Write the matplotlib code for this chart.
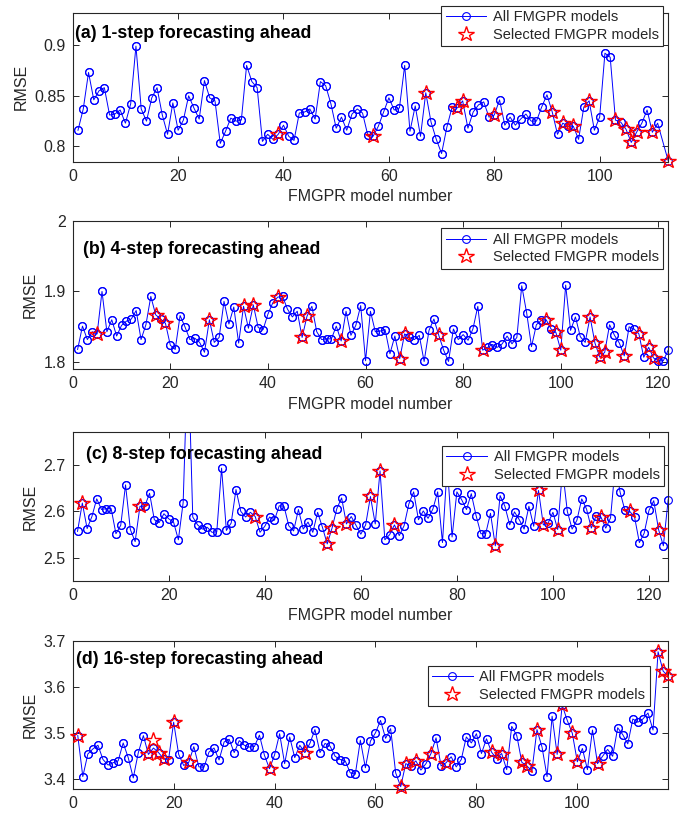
import numpy as np
import matplotlib
matplotlib.use('Agg')
import matplotlib.pyplot as plt

plt.rcParams['font.family'] = ['Liberation Sans', 'DejaVu Sans']

# ---- (a) 1-step ahead: RMSE of every FMGPR model (model 112 not present)
models_1 = list(range(1, 112)) + [113]
rmse_1 = [0.816, 0.837, 0.873, 0.846, 0.855, 0.858, 0.831, 0.832, 0.836, 0.823,
          0.842, 0.899, 0.837, 0.825, 0.848, 0.858, 0.831, 0.812, 0.843, 0.816,
          0.826, 0.850, 0.838, 0.827, 0.865, 0.848, 0.845, 0.803, 0.815, 0.828,
          0.825, 0.826, 0.880, 0.864, 0.858, 0.805, 0.812, 0.807, 0.812, 0.821,
          0.810, 0.806, 0.833, 0.834, 0.837, 0.827, 0.864, 0.860, 0.842, 0.818,
          0.829, 0.816, 0.832, 0.837, 0.833, 0.811, 0.810, 0.820, 0.834, 0.848,
          0.836, 0.838, 0.880, 0.815, 0.840, 0.810, 0.853, 0.824, 0.807, 0.793,
          0.819, 0.839, 0.838, 0.845, 0.818, 0.834, 0.841, 0.844, 0.829, 0.831,
          0.846, 0.821, 0.829, 0.821, 0.827, 0.832, 0.825, 0.825, 0.839, 0.851,
          0.834, 0.812, 0.823, 0.820, 0.820, 0.807, 0.839, 0.845, 0.816, 0.829,
          0.892, 0.888, 0.826, 0.824, 0.817, 0.804, 0.814, 0.823, 0.836, 0.814,
          0.823, 0.786]
sel_models_1 = [39, 57, 67, 73, 74, 80, 91, 93, 95, 98, 103, 105, 106, 107, 110, 113]
sel_rmse_1 = [0.812, 0.810, 0.853, 0.838, 0.845, 0.831, 0.834, 0.823, 0.820, 0.845,
              0.826, 0.817, 0.804, 0.814, 0.814, 0.786]

# ---- (b) 4-step ahead
models_4 = list(range(1, 123))
rmse_4 = [1.818, 1.851, 1.832, 1.843, 1.840, 1.900, 1.843, 1.860, 1.837, 1.852,
          1.858, 1.861, 1.873, 1.832, 1.853, 1.893, 1.867, 1.861, 1.855, 1.824,
          1.818, 1.866, 1.850, 1.832, 1.834, 1.828, 1.814, 1.860, 1.828, 1.835,
          1.886, 1.854, 1.878, 1.827, 1.879, 1.848, 1.881, 1.849, 1.846, 1.868,
          1.884, 1.892, 1.893, 1.875, 1.864, 1.872, 1.835, 1.865, 1.879, 1.843,
          1.832, 1.833, 1.833, 1.851, 1.830, 1.872, 1.838, 1.852, 1.880, 1.802,
          1.872, 1.843, 1.844, 1.846, 1.812, 1.837, 1.805, 1.840, 1.835, 1.832,
          1.838, 1.801, 1.845, 1.861, 1.838, 1.817, 1.801, 1.847, 1.832, 1.839,
          1.831, 1.847, 1.879, 1.817, 1.821, 1.825, 1.821, 1.826, 1.837, 1.826,
          1.835, 1.908, 1.870, 1.822, 1.853, 1.859, 1.860, 1.847, 1.842, 1.817,
          1.909, 1.845, 1.864, 1.836, 1.828, 1.864, 1.827, 1.807, 1.814, 1.853,
          1.838, 1.827, 1.809, 1.850, 1.847, 1.840, 1.807, 1.821, 1.806, 1.802,
          1.802, 1.817]
sel_models_4 = [5, 17, 19, 28, 35, 37, 42, 47, 48, 55, 67, 68, 75, 84, 97, 99, 100,
                106, 107, 108, 109, 113, 116, 118, 119]
sel_rmse_4 = [1.840, 1.867, 1.855, 1.860, 1.879, 1.881, 1.892, 1.835, 1.865, 1.830,
              1.805, 1.840, 1.838, 1.817, 1.860, 1.842, 1.817, 1.864, 1.827, 1.807,
              1.814, 1.809, 1.840, 1.821, 1.806]

# ---- (c) 8-step ahead
models_8 = list(range(1, 125))
rmse_8 = [2.557, 2.618, 2.563, 2.589, 2.627, 2.604, 2.606, 2.606, 2.552, 2.570,
          2.657, 2.561, 2.535, 2.611, 2.611, 2.639, 2.582, 2.576, 2.595, 2.584,
          2.577, 2.539, 2.619, 2.950, 2.588, 2.571, 2.562, 2.566, 2.555, 2.556,
          2.693, 2.559, 2.575, 2.647, 2.600, 2.588, 2.598, 2.589, 2.555, 2.568,
          2.588, 2.581, 2.612, 2.611, 2.569, 2.558, 2.604, 2.562, 2.577, 2.555,
          2.598, 2.566, 2.530, 2.564, 2.606, 2.629, 2.573, 2.589, 2.570, 2.551,
          2.571, 2.632, 2.573, 2.687, 2.539, 2.550, 2.571, 2.548, 2.569, 2.616,
          2.642, 2.582, 2.601, 2.585, 2.605, 2.642, 2.533, 2.700, 2.545, 2.642,
          2.625, 2.604, 2.638, 2.591, 2.552, 2.552, 2.596, 2.526, 2.634, 2.611,
          2.571, 2.599, 2.582, 2.562, 2.611, 2.568, 2.645, 2.571, 2.575, 2.598,
          2.561, 2.690, 2.600, 2.562, 2.581, 2.627, 2.605, 2.564, 2.591, 2.588,
          2.564, 2.586, 2.700, 2.641, 2.602, 2.600, 2.588, 2.533, 2.553, 2.602,
          2.623, 2.561, 2.526, 2.625]
sel_models_8 = [2, 14, 38, 53, 54, 57, 62, 64, 67, 88, 97, 98, 101, 108, 110, 116, 122]
sel_rmse_8 = [2.618, 2.611, 2.589, 2.530, 2.564, 2.573, 2.632, 2.687, 2.571, 2.526,
              2.645, 2.571, 2.561, 2.564, 2.588, 2.600, 2.561]

# ---- (d) 16-step ahead
models_16 = list(range(1, 119))
rmse_16 = [3.494, 3.405, 3.454, 3.465, 3.473, 3.442, 3.430, 3.435, 3.439, 3.478,
           3.446, 3.402, 3.457, 3.494, 3.453, 3.467, 3.457, 3.444, 3.442, 3.523,
           3.453, 3.429, 3.436, 3.470, 3.426, 3.425, 3.458, 3.467, 3.441, 3.480,
           3.486, 3.457, 3.483, 3.473, 3.469, 3.470, 3.495, 3.451, 3.422, 3.452,
           3.498, 3.433, 3.491, 3.446, 3.473, 3.457, 3.477, 3.507, 3.457, 3.477,
           3.471, 3.449, 3.442, 3.439, 3.413, 3.410, 3.484, 3.424, 3.482, 3.500,
           3.527, 3.488, 3.509, 3.413, 3.383, 3.433, 3.428, 3.439, 3.419, 3.433,
           3.455, 3.489, 3.428, 3.435, 3.448, 3.426, 3.442, 3.491, 3.478, 3.498,
           3.455, 3.487, 3.458, 3.444, 3.455, 3.420, 3.514, 3.494, 3.436, 3.428,
           3.417, 3.507, 3.469, 3.405, 3.536, 3.453, 3.560, 3.527, 3.499, 3.437,
           3.466, 3.420, 3.506, 3.433, 3.449, 3.464, 3.449, 3.511, 3.496, 3.476,
           3.530, 3.523, 3.530, 3.543, 3.506, 3.676, 3.634, 3.623]
sel_models_16 = [1, 15, 16, 17, 18, 20, 23, 39, 46, 65, 66, 68, 71, 74, 83, 85, 89,
                 90, 92, 96, 97, 99, 100, 104, 116, 117, 118]
sel_rmse_16 = [3.494, 3.453, 3.484, 3.457, 3.444, 3.523, 3.436, 3.422, 3.457, 3.383,
               3.433, 3.439, 3.455, 3.435, 3.458, 3.455, 3.436, 3.428, 3.507, 3.453,
               3.560, 3.499, 3.437, 3.433, 3.676, 3.634, 3.623]

titles = ['(a) 1-step forecasting ahead', '(b) 4-step forecasting ahead',
          '(c) 8-step forecasting ahead', '(d) 16-step forecasting ahead']

panels = [
    dict(x=models_1, y=rmse_1, sx=sel_models_1, sy=sel_rmse_1,
         xlim=(0, 113), ylim=(0.785, 0.932), xticks=range(0, 101, 20),
         yticks=[0.8, 0.85, 0.9], ylabels=['0.8', '0.85', '0.9'],
         title_xy=(0.004, 0.857), leg=(0.992, 1.045), xlabel=True,
         box=[0.106, 0.8021, 0.868, 0.1824]),
    dict(x=models_4, y=rmse_4, sx=sel_models_4, sy=sel_rmse_4,
         xlim=(0, 122), ylim=(1.79, 2.0), xticks=range(0, 121, 20),
         yticks=[1.8, 1.9, 2.0], ylabels=['1.8', '1.9', '2'],
         title_xy=(0.018, 0.808), leg=(0.992, 0.949), xlabel=True,
         box=[0.106, 0.548, 0.868, 0.1819]),
    dict(x=models_8, y=rmse_8, sx=sel_models_8, sy=sel_rmse_8,
         xlim=(0, 124), ylim=(2.4505, 2.770), xticks=range(0, 121, 20),
         yticks=[2.5, 2.6, 2.7], ylabels=['2.5', '2.6', '2.7'],
         title_xy=(0.022, 0.852), leg=(0.993, 0.91), xlabel=True,
         box=[0.106, 0.2889, 0.868, 0.182]),
    dict(x=models_16, y=rmse_16, sx=sel_models_16, sy=sel_rmse_16,
         xlim=(0, 118), ylim=(3.378, 3.7), xticks=range(0, 101, 20),
         yticks=[3.4, 3.5, 3.6, 3.7], ylabels=['3.4', '3.5', '3.6', '3.7'],
         title_xy=(0.0055, 0.875), leg=(0.969, 0.829), xlabel=False,
         box=[0.106, 0.0343, 0.868, 0.1815]),
]

fig = plt.figure(figsize=(6.86, 8.17), dpi=100)
edge = '0.15'
circ = dict(marker='o', ms=5.6, mfc='none', mec='blue', mew=0.8)
star = dict(ls='none', marker='*', ms=11.5, mfc='none', mec='red', mew=1.0)

for p, title in zip(panels, titles):
    ax = fig.add_axes(p['box'])
    x, y = np.array(p['x']), np.array(p['y'])
    sx, sy = np.array(p['sx']), np.array(p['sy'])
    lo, hi = p['ylim']

    # line clipped to the axes, markers inside the y-range drawn whole
    ax.plot(x, y, color='blue', lw=0.7, label='All FMGPR models', zorder=2, **circ)
    inside = (y >= lo) & (y <= hi)
    ax.plot(x[inside], y[inside], ls='none', clip_on=False, zorder=2, **circ)
    ax.plot(sx, sy, label='Selected FMGPR models', clip_on=False, zorder=3, **star)

    ax.set_xlim(*p['xlim'])
    ax.set_ylim(lo, hi)
    ax.set_xticks(list(p['xticks']))
    ax.set_yticks(p['yticks'])
    ax.set_yticklabels(p['ylabels'])
    ax.tick_params(direction='in', top=True, right=True, length=4, width=0.7,
                   colors=edge, labelcolor='#262626', labelsize=11.5, pad=5)
    for s in ax.spines.values():
        s.set_color(edge)
        s.set_linewidth(0.8)

    ax.set_ylabel('RMSE', fontsize=11.5, color='#262626', labelpad=4)
    if p['xlabel']:
        ax.set_xlabel('FMGPR model number', fontsize=11.5, color='#262626',
                      labelpad=4)

    ax.text(p['title_xy'][0], p['title_xy'][1], title, transform=ax.transAxes,
            fontsize=12.8, fontweight='bold', va='center', ha='left',
            color='black', zorder=6)

    leg = ax.legend(loc='upper right', bbox_to_anchor=p['leg'], fontsize=10.5,
                    frameon=True, fancybox=False, framealpha=1, borderpad=0.3,
                    labelspacing=0.25, handlelength=2.8, handletextpad=0.45,
                    borderaxespad=0)
    leg.set_zorder(7)
    leg.get_frame().set_edgecolor(edge)
    leg.get_frame().set_linewidth(0.8)
    for t in leg.get_texts():
        t.set_color('#262626')

fig.savefig('out.png', dpi=100)
